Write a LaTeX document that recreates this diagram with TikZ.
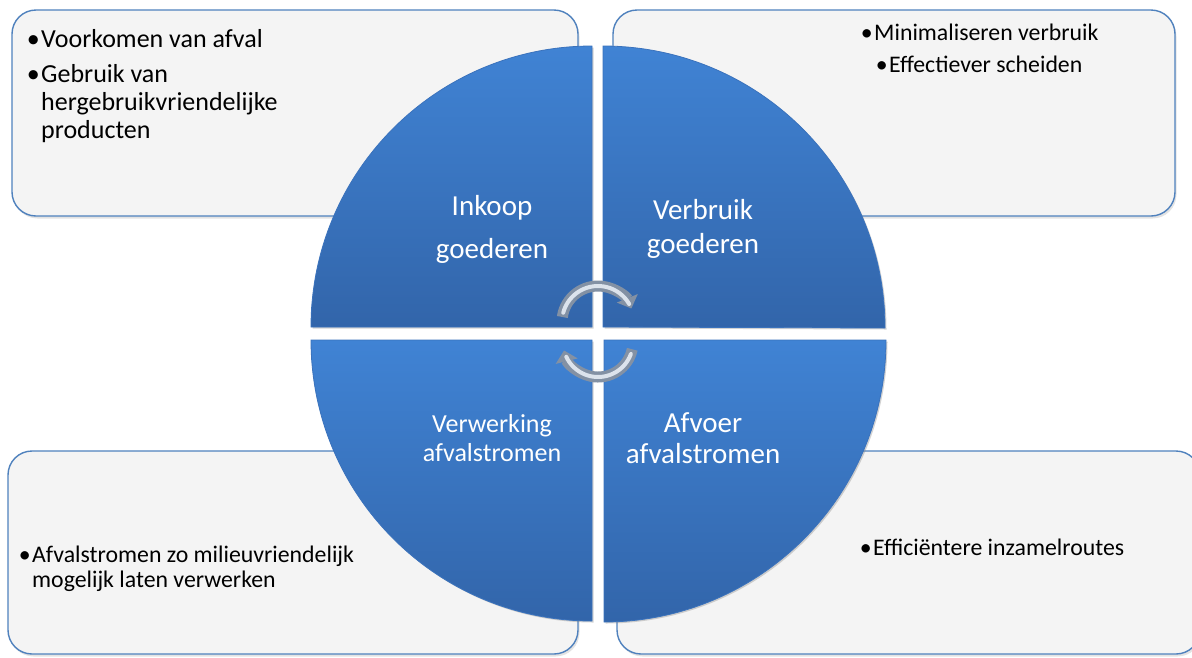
\documentclass[tikz,border=0pt]{standalone}
\usepackage{fontspec}
\setmainfont{Carlito}
\usetikzlibrary{shadows,arrows.meta}
\definecolor{boxfill}{HTML}{F4F4F4}
\definecolor{boxline}{HTML}{4F81BD}
\definecolor{qtop}{HTML}{4083D4}
\definecolor{qbot}{HTML}{3265AA}
\definecolor{qedge}{HTML}{3A72BC}
\definecolor{arrowdark}{HTML}{8391A4}
\definecolor{arrowlight}{HTML}{DCE3EC}
\begin{document}
\begin{tikzpicture}[x=1pt,y=-1pt,
  infobox/.style={draw=boxline, line width=1.4pt, fill=boxfill, rounded corners=24pt,
    drop shadow={shadow xshift=1.5pt, shadow yshift=-2.5pt, opacity=0.22}},
  quad/.style={top color=qtop, bottom color=qbot, draw=qedge, line width=0.8pt,
    drop shadow={shadow xshift=1.5pt, shadow yshift=-1.5pt, opacity=0.35}},
  qlabel/.style={text=white, inner sep=0pt, anchor=base, font=\fontsize{29}{33}\selectfont},
  qlabelsmall/.style={text=white, inner sep=0pt, anchor=base, font=\fontsize{26}{30}\selectfont},
  bigbullet/.style={inner sep=0pt, anchor=base west, font=\fontsize{26}{28}\selectfont},
  smallbullet/.style={inner sep=0pt, anchor=base west, font=\fontsize{23.8}{26}\selectfont},
  arcouter/.style={draw=arrowdark, line width=11pt},
  arcinner/.style={draw=arrowlight, line width=4pt, line cap=round},
]
\useasboundingbox (0,0) rectangle (1192,657);

% info boxes
\path[infobox] (12,10) rectangle (578,216);
\path[infobox] (613,10) rectangle (1175,216);
\path[infobox] (8,451) rectangle (578,654);
\path[infobox] (617,451) rectangle (1200,654);

% quadrants
\path[quad] (311,327) arc[start angle=180, end angle=270, radius=281] -- (592,327) -- cycle;
\path[quad] (603,46) arc[start angle=270, end angle=360, radius=282] -- (603,327) -- cycle;
\path[quad] (592,621) arc[start angle=90, end angle=180, radius=281] -- (592,340) -- cycle;
\path[quad] (886,340) arc[start angle=0, end angle=90, radius=282] -- (604,340) -- cycle;

% circular arrows
\draw[arcouter, -{Triangle[width=22pt,length=11pt]}]
  (598,322) ++(188:36) arc[start angle=188, end angle=338, radius=36];
\draw[arcinner] (598,322) ++(195:36) arc[start angle=195, end angle=330, radius=36];
\draw[arcouter, -{Triangle[width=22pt,length=11pt]}]
  (598,342) ++(12:35) arc[start angle=12, end angle=166, radius=35];
\draw[arcinner] (598,342) ++(20:35) arc[start angle=20, end angle=155, radius=35];

% quadrant labels
\node[qlabel] (inkoop) at (492,215) {Inkoop};
\node[qlabel] (inkoopb) at (492,258) {goederen};
\node[qlabel] (verbruik) at (703,219) {Verbruik};
\node[qlabel] (verbruikb) at (703,253) {goederen};
\node[qlabelsmall] (verwerking) at (492,432) {Verwerking};
\node[qlabelsmall] (verwerkingb) at (492,461) {afvalstromen};
\node[qlabel] (afvoer) at (703,432) {Afvoer};
\node[qlabel] (afvoerb) at (703,463) {afvalstromen};

% bullet texts
\node[bigbullet] (tl1) at (41,47) {\llap{•\hspace{1.5pt}}Voorkomen van afval};
\node[bigbullet] (tl2) at (41,82) {\llap{•\hspace{1.5pt}}Gebruik van};
\node[bigbullet] (tl3) at (41,110) {hergebruikvriendelijke};
\node[bigbullet] (tl4) at (41,138) {producten};
\node[smallbullet] (tr1) at (874,40) {\llap{•\hspace{1.5pt}}Minimaliseren verbruik};
\node[smallbullet] (tr2) at (889,72) {\llap{•\hspace{1.5pt}}Effectiever scheiden};
\node[smallbullet] (bl1) at (32,562) {\llap{•\hspace{1.5pt}}Afvalstromen zo milieuvriendelijk};
\node[smallbullet] (bl2) at (32,587) {mogelijk laten verwerken};
\node[smallbullet] (br1) at (873,555) {\llap{•\hspace{1.5pt}}Efficiëntere inzamelroutes};
\end{tikzpicture}
\end{document}
